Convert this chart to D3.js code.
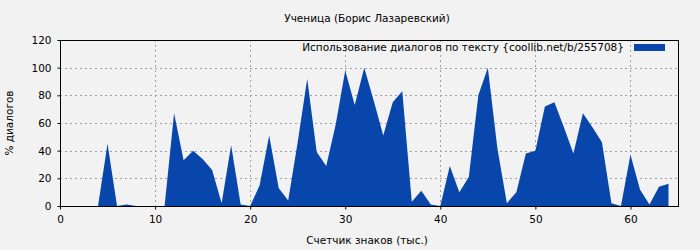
<!DOCTYPE html>
<html lang="ru">
<head>
<meta charset="utf-8">
<title>Ученица</title>
<script src="https://cdn.jsdelivr.net/npm/d3@7"></script>
<style>
  body { margin: 0; background: #f2f2f2; }
  text { font-family: "DejaVu Sans", sans-serif; font-size: 10.5px; fill: #000; }
</style>
</head>
<body>
<script>
// data: thousands of chars -> % dialogues
var xs = d3.range(0, 65);
var vals = [0, 0, 0, 0, 0, 45, 0, 1, 0, 0,
            0, 0, 67, 33, 40, 34, 26, 2, 44, 1,
            0, 15, 51, 13, 4, 46, 92, 39, 29, 59,
            98, 73, 100, 76, 51, 75, 83, 3, 11, 1,
            0, 29, 10, 21, 80, 100, 42, 2, 10, 38,
            40, 72, 75, 57, 38, 67, 57, 46, 2, 0,
            37, 12, 1, 14, 16];
var xTicks = [0, 10, 20, 30, 40, 50, 60];
var yTicks = [0, 20, 40, 60, 80, 100, 120];
var title = "Ученица (Борис Лазаревский)";
var legendLabel = "Использование диалогов по тексту {coollib.net/b/255708}";

var w = 700, h = 250;
var plotL = 60, plotR = 678, plotT = 40, plotB = 206;
var fill = "#0846ab";

var svg = d3.select("body").append("svg")
  .attr("width", w)
  .attr("height", h);

var x = d3.scaleLinear().domain([0, 65]).range([plotL, plotR]);
var y = d3.scaleLinear().domain([0, 120]).range([plotB, plotT]);

// grid
svg.append("g").selectAll("line")
  .data(yTicks.filter(function(d) { return d > 0 && d < 120; }))
  .enter().append("line")
  .attr("x1", plotL).attr("x2", plotR)
  .attr("y1", function(d) { return Math.round(y(d)) + 0.5; })
  .attr("y2", function(d) { return Math.round(y(d)) + 0.5; })
  .attr("stroke", "#a0a0a0").attr("stroke-dasharray", "2,3");
svg.append("g").selectAll("line")
  .data(xTicks.filter(function(d) { return d > 0; }))
  .enter().append("line")
  .attr("y1", plotT).attr("y2", plotB)
  .attr("x1", function(d) { return Math.round(x(d)) + 0.5; })
  .attr("x2", function(d) { return Math.round(x(d)) + 0.5; })
  .attr("stroke", "#a0a0a0").attr("stroke-dasharray", "2,3");

// area
var area = d3.area()
  .x(function(d, i) { return x(xs[i]); })
  .y0(y(0))
  .y1(function(d) { return y(d); });
svg.append("path")
  .datum(vals)
  .attr("d", area)
  .attr("fill", fill);

// frame
svg.append("rect")
  .attr("x", plotL + 0.5).attr("y", plotT + 0.5)
  .attr("width", plotR - plotL).attr("height", plotB - plotT)
  .attr("fill", "none").attr("stroke", "#000");

// axes
var xAxis = d3.axisBottom(x).tickValues(xTicks).tickSize(3).tickPadding(6);
svg.append("g")
  .attr("transform", "translate(0," + (plotB + 0.5) + ")")
  .call(xAxis)
  .call(function(g) { g.select(".domain").remove(); })
  .selectAll("text").style("font-family", "DejaVu Sans").style("font-size", "10.5px");

var yAxis = d3.axisLeft(y).tickValues(yTicks).tickSize(3).tickPadding(6);
svg.append("g")
  .attr("transform", "translate(" + (plotL + 0.5) + ",0)")
  .call(yAxis)
  .call(function(g) { g.select(".domain").remove(); })
  .selectAll("text").style("font-family", "DejaVu Sans").style("font-size", "10.5px");

// titles
svg.append("text")
  .attr("x", 367).attr("y", 22)
  .attr("text-anchor", "middle")
  .text(title);
svg.append("text")
  .attr("x", 367).attr("y", 244)
  .attr("text-anchor", "middle")
  .text("Счетчик знаков (тыс.)");
svg.append("text")
  .attr("transform", "translate(13,123) rotate(-90)")
  .attr("text-anchor", "middle")
  .text("% диалогов");

// legend
svg.append("text")
  .attr("x", 624).attr("y", 51)
  .attr("text-anchor", "end")
  .text(legendLabel);
svg.append("rect")
  .attr("x", 634).attr("y", 44)
  .attr("width", 31).attr("height", 7)
  .attr("fill", fill);
</script>
</body>
</html>
